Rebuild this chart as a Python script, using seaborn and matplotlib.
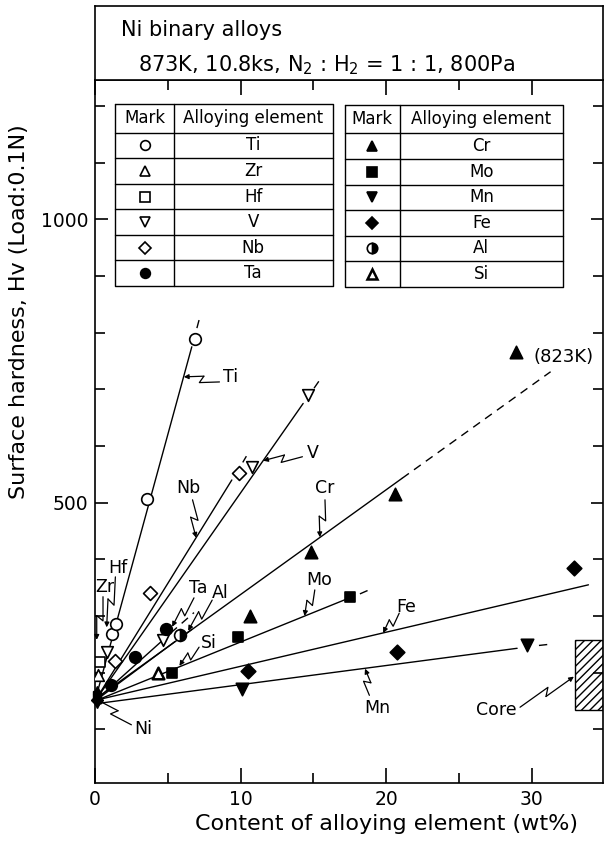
import numpy as np
import matplotlib
matplotlib.use("Agg")
import matplotlib.pyplot as plt
import seaborn as sns
from matplotlib.patches import Rectangle
from matplotlib.ticker import MultipleLocator

# --- measured points (wt%, Hv) ---
ti_x = [1.17, 1.43, 3.59, 6.85]
ti_y = [268, 285, 506, 788]
zr_x = [0.23]
zr_y = [196]
hf_x = [0.32]
hf_y = [219]
v_x = [0.84, 4.65, 10.77, 14.6]
v_y = [237, 258, 563, 690]
nb_x = [1.35, 3.8, 9.86]
nb_y = [221, 340, 552]
ta_x = [1.08, 2.73, 4.87]
ta_y = [178, 227, 277]
cr_x = [10.63, 14.86, 20.6]
cr_y = [300, 413, 515]
cr823_x = [28.9]
cr823_y = [766]
mo_x = [5.26, 9.8, 17.55]
mo_y = [199, 263, 333]
mn_x = [10.09, 29.7]
mn_y = [172, 249]
fe_x = [10.53, 20.75, 32.9]
fe_y = [203, 237, 385]
al_x = [5.86]
al_y = [266]
si_x = [4.34]
si_y = [199]
ni_x = [0.12, 0.12, 0.12, 0.12]
ni_y = [170, 160, 152, 145]
ni_marks = ["^", "s", "D", "v"]

solid_lines = {
    "Ti": ([0, 6.65], [150, 775]),
    "Nb": ([0, 9.4], [150, 540]),
    "V": ([0, 14.3], [150, 675]),
    "Ta": ([0, 4.6], [150, 256]),
    "Al": ([0, 5.5], [150, 255]),
    "Cr": ([0, 21.1], [153, 543]),
    "Mo": ([0, 17.2], [150, 329]),
    "Fe": ([0, 33.9], [151, 355]),
    "Mn": ([0, 29.0], [145, 243]),
}
dash_lines = {
    "Ti": ([7.0, 7.25], [808, 832]),
    "Nb": ([10.15, 10.4], [571, 582]),
    "V": ([15.05, 15.4], [702, 715]),
    "Ta": ([5.2, 6.8], [270, 306]),
    "Al": ([6.2, 7.0], [268, 283]),
    "Cr": ([21.1, 31.3], [543, 731]),
    "Mo": ([18.2, 19.0], [339, 348]),
    "Mn": ([30.5, 31.2], [248, 250]),
}

# --- labels: text position, leader start, leader target ---
lab_text = ["Ti", "V", "Nb", "Cr", "Mo", "Fe", "Mn", "Core", "Ni", "Zr", "Hf", "Ta", "Al", "Si"]
lab_x = [9.3, 14.95, 6.4, 15.75, 15.4, 21.4, 19.4, 27.6, 3.3, 0.7, 1.55, 7.1, 8.6, 7.8]
lab_y = [722, 587, 525, 525, 363, 316, 137, 134, 101, 352, 384, 349, 340, 252]
lead_x0 = [8.55, 14.25, 6.7, 15.8, 15.1, 20.9, 18.85, 29.2, 2.5, 0.55, 1.4, 6.8, 8.05, 7.15]
lead_y0 = [713, 581, 505, 505, 346, 305, 160, 139, 108, 334, 369, 332, 328, 245]
lead_x1 = [6.1, 11.55, 6.95, 15.45, 14.4, 19.8, 18.55, 32.9, 0.15, 0.12, 0.8, 5.3, 6.4, 5.8]
lead_y1 = [722, 574, 438, 439, 300, 270, 207, 193, 152, 258, 280, 281, 274, 212]

core_x = [33.0, 34.9]
core_y = [134, 258]

# --- legend tables ---
left_names = ["Ti", "Zr", "Hf", "V", "Nb", "Ta"]
left_marks = ["o", "^", "s", "v", "D", "o"]
left_fill = ["white", "white", "white", "white", "white", "black"]
right_names = ["Cr", "Mo", "Mn", "Fe", "Al", "Si"]
right_marks = ["^", "s", "v", "D", "o", "^"]
right_fill = ["black", "black", "black", "black", "half", "white"]

sns.set_style("ticks")
plt.rcParams["font.family"] = ["DejaVu Sans"]
plt.rcParams["axes.linewidth"] = 1.2
for k in ["text.color", "axes.labelcolor", "xtick.color", "ytick.color", "axes.edgecolor"]:
    plt.rcParams[k] = "black"

W, H = 613, 848
fig = plt.figure(figsize=(W / 100, H / 100), dpi=100)
ax = fig.add_axes([95 / W, 65 / H, 508 / W, 703 / H])
ax.set_xlim(0, 34.9)
ax.set_ylim(5.3, 1245.8)

# lines
for k, (xs, ys) in solid_lines.items():
    sns.lineplot(x=xs, y=ys, color="black", lw=1.0, ax=ax)
for k, (xs, ys) in dash_lines.items():
    ax.plot(xs, ys, color="black", lw=1.0, dashes=(6, 4.5))

# markers
def pts(xs, ys, m, face, s=70, lw=1.2):
    sns.scatterplot(x=xs, y=ys, marker=m, color=face, edgecolor="black",
                    linewidth=lw, s=s, ax=ax, zorder=3)

pts(ti_x, ti_y, "o", "white")
pts(zr_x, zr_y, "^", "white")
pts(hf_x, hf_y, "s", "white", s=55)
pts(v_x, v_y, "v", "white")
pts(nb_x, nb_y, "D", "white", s=50)
pts(ta_x, ta_y, "o", "black")
pts(cr_x, cr_y, "^", "black", s=80)
pts(cr823_x, cr823_y, "^", "black", s=80)
pts(mo_x, mo_y, "s", "black", s=50)
pts(mn_x, mn_y, "v", "black", s=80)
pts(fe_x, fe_y, "D", "black", s=55)
pts(si_x, si_y, "^", "white", lw=1.8)
ax.plot(al_x, al_y, marker="o", ls="none", ms=8.5, fillstyle="right",
        color="black", markerfacecoloralt="white", mec="black", mew=1.2, zorder=3)
for x, y, m in zip(ni_x, ni_y, ni_marks):
    ax.plot([x], [y], marker=m, ls="none", ms=6, color="black", zorder=3, clip_on=False)

# core hardness band
ax.add_patch(Rectangle((core_x[0], core_y[0]), core_x[1] - core_x[0], core_y[1] - core_y[0],
                       fill=False, hatch="////", lw=1.0, ec="black"))

ax.text(30.1, 757, "(823K)", fontsize=13, ha="left", va="center")

# labels with zig-zag leaders
def leader(start, target, h=3.5):
    tr = ax.transData
    s = tr.transform(start)
    t = tr.transform(target)
    d = t - s
    L = np.hypot(*d)
    u = d / L
    n = np.array([-u[1], u[0]])
    p1 = s + 0.55 * d + n * h
    p2 = s + 0.45 * d - n * h
    xy = tr.inverted().transform(np.array([s, p1, p2]))
    ax.plot(xy[:, 0], xy[:, 1], color="black", lw=0.9, clip_on=False)
    ax.annotate("", xy=target, xytext=xy[2],
                arrowprops=dict(arrowstyle="-|>", color="black", lw=0.9,
                                mutation_scale=7, shrinkA=0, shrinkB=0))

for t, x, y, x0, y0, x1, y1 in zip(lab_text, lab_x, lab_y, lead_x0, lead_y0, lead_x1, lead_y1):
    ax.text(x, y, t, fontsize=12.5, ha="center", va="center")
    leader((x0, y0), (x1, y1))

# ticks
ax.xaxis.set_major_locator(MultipleLocator(10))
ax.xaxis.set_minor_locator(MultipleLocator(5))
ax.yaxis.set_major_locator(MultipleLocator(500))
ax.yaxis.set_minor_locator(MultipleLocator(100))
ax.tick_params(which="both", direction="in", top=True, right=True, width=1.2,
               labelsize=13.5, pad=5)
ax.tick_params(axis="x", which="major", length=11)
ax.tick_params(axis="x", which="minor", length=7)
ax.tick_params(axis="y", which="major", length=9)
ax.tick_params(axis="y", which="minor", length=7)

ax.set_xlabel("Content of alloying element (wt%)", fontsize=16)
ax.xaxis.set_label_coords(0.573, -0.044)
ax.set_ylabel("Surface hardness, Hv (Load:0.1N)", fontsize=16)
ax.yaxis.set_label_coords(-0.13, 0.67)

# legend tables (axes fraction)
def table(x0, x1, xd, ytop, yhead, ybot, marks, fills, names):
    kw = dict(transform=ax.transAxes, color="black", lw=1.0, clip_on=False)
    ax.plot([x0, x1, x1, x0, x0], [ytop, ytop, ybot, ybot, ytop], **kw)
    ax.plot([xd, xd], [ytop, ybot], **kw)
    rh = (yhead - ybot) / len(names)
    for i in range(len(names)):
        yl = yhead - i * rh
        ax.plot([x0, x1], [yl, yl], **kw)
    ymid = (ytop + yhead) / 2
    ax.text((x0 + xd) / 2, ymid, "Mark", transform=ax.transAxes,
            ha="center", va="center", fontsize=12)
    ax.text((xd + x1) / 2, ymid, "Alloying element", transform=ax.transAxes,
            ha="center", va="center", fontsize=12)
    for i, (m, f, nm) in enumerate(zip(marks, fills, names)):
        yc = yhead - (i + 0.5) * rh
        xc = (x0 + xd) / 2
        if f == "half":
            ax.plot([xc], [yc], marker=m, ms=7.5, fillstyle="right", color="black",
                    markerfacecoloralt="white", mec="black", mew=1.2,
                    transform=ax.transAxes, clip_on=False)
        else:
            mew = 1.8 if nm == "Si" else 1.2
            ax.plot([xc], [yc], marker=m, ms=7 if m != "D" else 6, mfc=f, mec="black",
                    mew=mew, transform=ax.transAxes, clip_on=False)
        ax.text((xd + x1) / 2, yc, nm, transform=ax.transAxes,
                ha="center", va="center", fontsize=12)

table(0.04, 0.468, 0.155, 0.966, 0.925, 0.707, left_marks, left_fill, left_names)
table(0.492, 0.921, 0.600, 0.964, 0.924, 0.706, right_marks, right_fill, right_names)

# header box
hdr = fig.add_axes([95 / W, 768 / H, 508 / W, 74 / H])
hdr.set_xticks([])
hdr.set_yticks([])
for sp in hdr.spines.values():
    sp.set_linewidth(1.2)
hdr.text(0.051, 0.67, "Ni binary alloys", fontsize=15, ha="left", va="center")
hdr.text(0.085, 0.2, r"873K, 10.8ks, N$_2$ : H$_2$ = 1 : 1, 800Pa", fontsize=15,
         ha="left", va="center")

fig.savefig("out.png", dpi=100)
